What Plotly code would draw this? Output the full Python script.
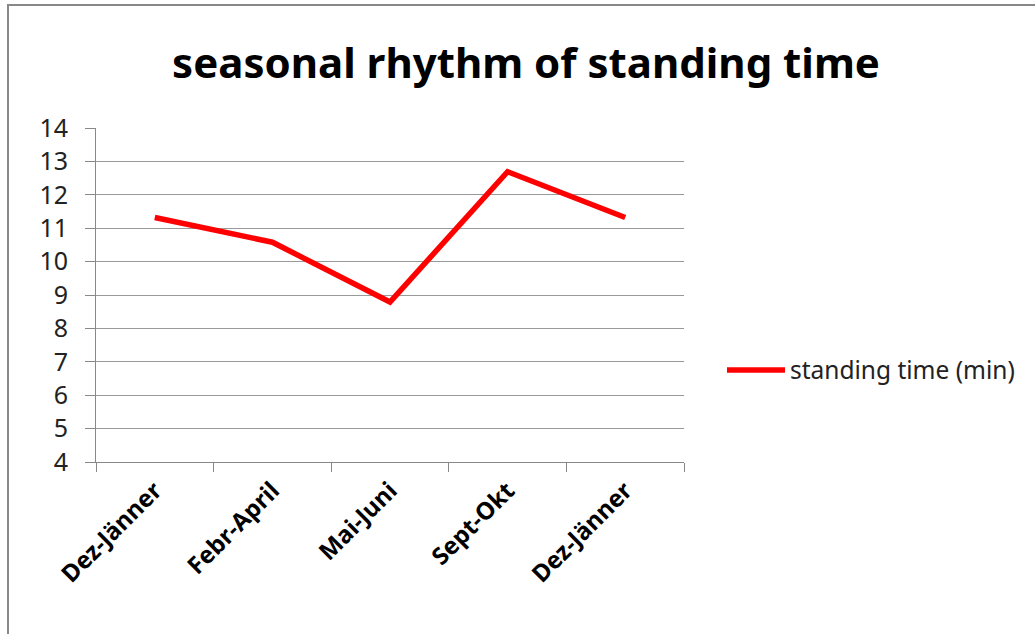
import plotly.graph_objects as go

categories = ["Dez-Jänner", "Febr-April", "Mai-Juni", "Sept-Okt", "Dez-Jänner"]
standing_time = [11.32, 10.58, 8.79, 12.69, 11.32]
y_ticks = list(range(4, 15))

W, H = 1035, 634
L, T = 96, 128
pw, ph = 588, 334
R, B = W - L - pw, H - T - ph

xs = list(range(len(categories)))

fig = go.Figure()
fig.add_trace(go.Scatter(
    x=xs, y=standing_time, mode="lines", name="standing time (min)",
    line=dict(color="#ff0000", width=5.5),
))

font_main = "Noto Sans, Open Sans, sans-serif"

def py(y_page):
    return (T + ph - y_page) / ph

def px(x_page):
    return (x_page - L) / pw

fig.update_layout(
    width=W, height=H,
    margin=dict(l=L, r=R, t=T, b=B),
    paper_bgcolor="white", plot_bgcolor="white",
    title=dict(text="<b>seasonal rhythm of standing time</b>",
               font=dict(family=font_main, size=42, color="black"),
               x=526 / W, xanchor="center", y=1 - 63 / H, yanchor="middle"),
    showlegend=True,
    legend=dict(x=px(722), xanchor="left", y=py(370), yanchor="middle",
                font=dict(family=font_main, size=24.5, color="#222"),
                bgcolor="rgba(0,0,0,0)", itemwidth=58),
    xaxis=dict(range=[-0.5, len(categories) - 0.5], tickmode="array",
               tickvals=xs, ticktext=[f"<b>{c}</b>" for c in categories],
               tickangle=-45, ticks="", showgrid=False, zeroline=False,
               showline=True, linecolor="#888", linewidth=1,
               ticklabelstandoff=4,
               tickfont=dict(family=font_main, size=24, color="black"),
               minor=dict(tickmode="array", tickvals=[i - 0.5 for i in range(len(categories) + 1)],
                          ticks="outside", ticklen=9, tickcolor="#888", showgrid=False)),
    yaxis=dict(range=[4, 14], tickmode="array", tickvals=y_ticks,
               ticks="outside", ticklen=10, tickcolor="#888",
               ticklabelstandoff=12,
               showgrid=True, gridcolor="#999", gridwidth=1, zeroline=False,
               showline=True, linecolor="#888", linewidth=1,
               tickfont=dict(family=font_main, size=25, color="#222")),
)

# outer chart border
fig.add_shape(type="rect", xref="paper", yref="paper",
              x0=px(8), x1=px(1045), y0=py(645), y1=py(5),
              line=dict(color="#888", width=2), fillcolor="rgba(0,0,0,0)", layer="below")

fig.write_html("out.html", config={"displayModeBar": False},
               post_script="document.body.style.margin='0';document.body.style.padding='0';")
